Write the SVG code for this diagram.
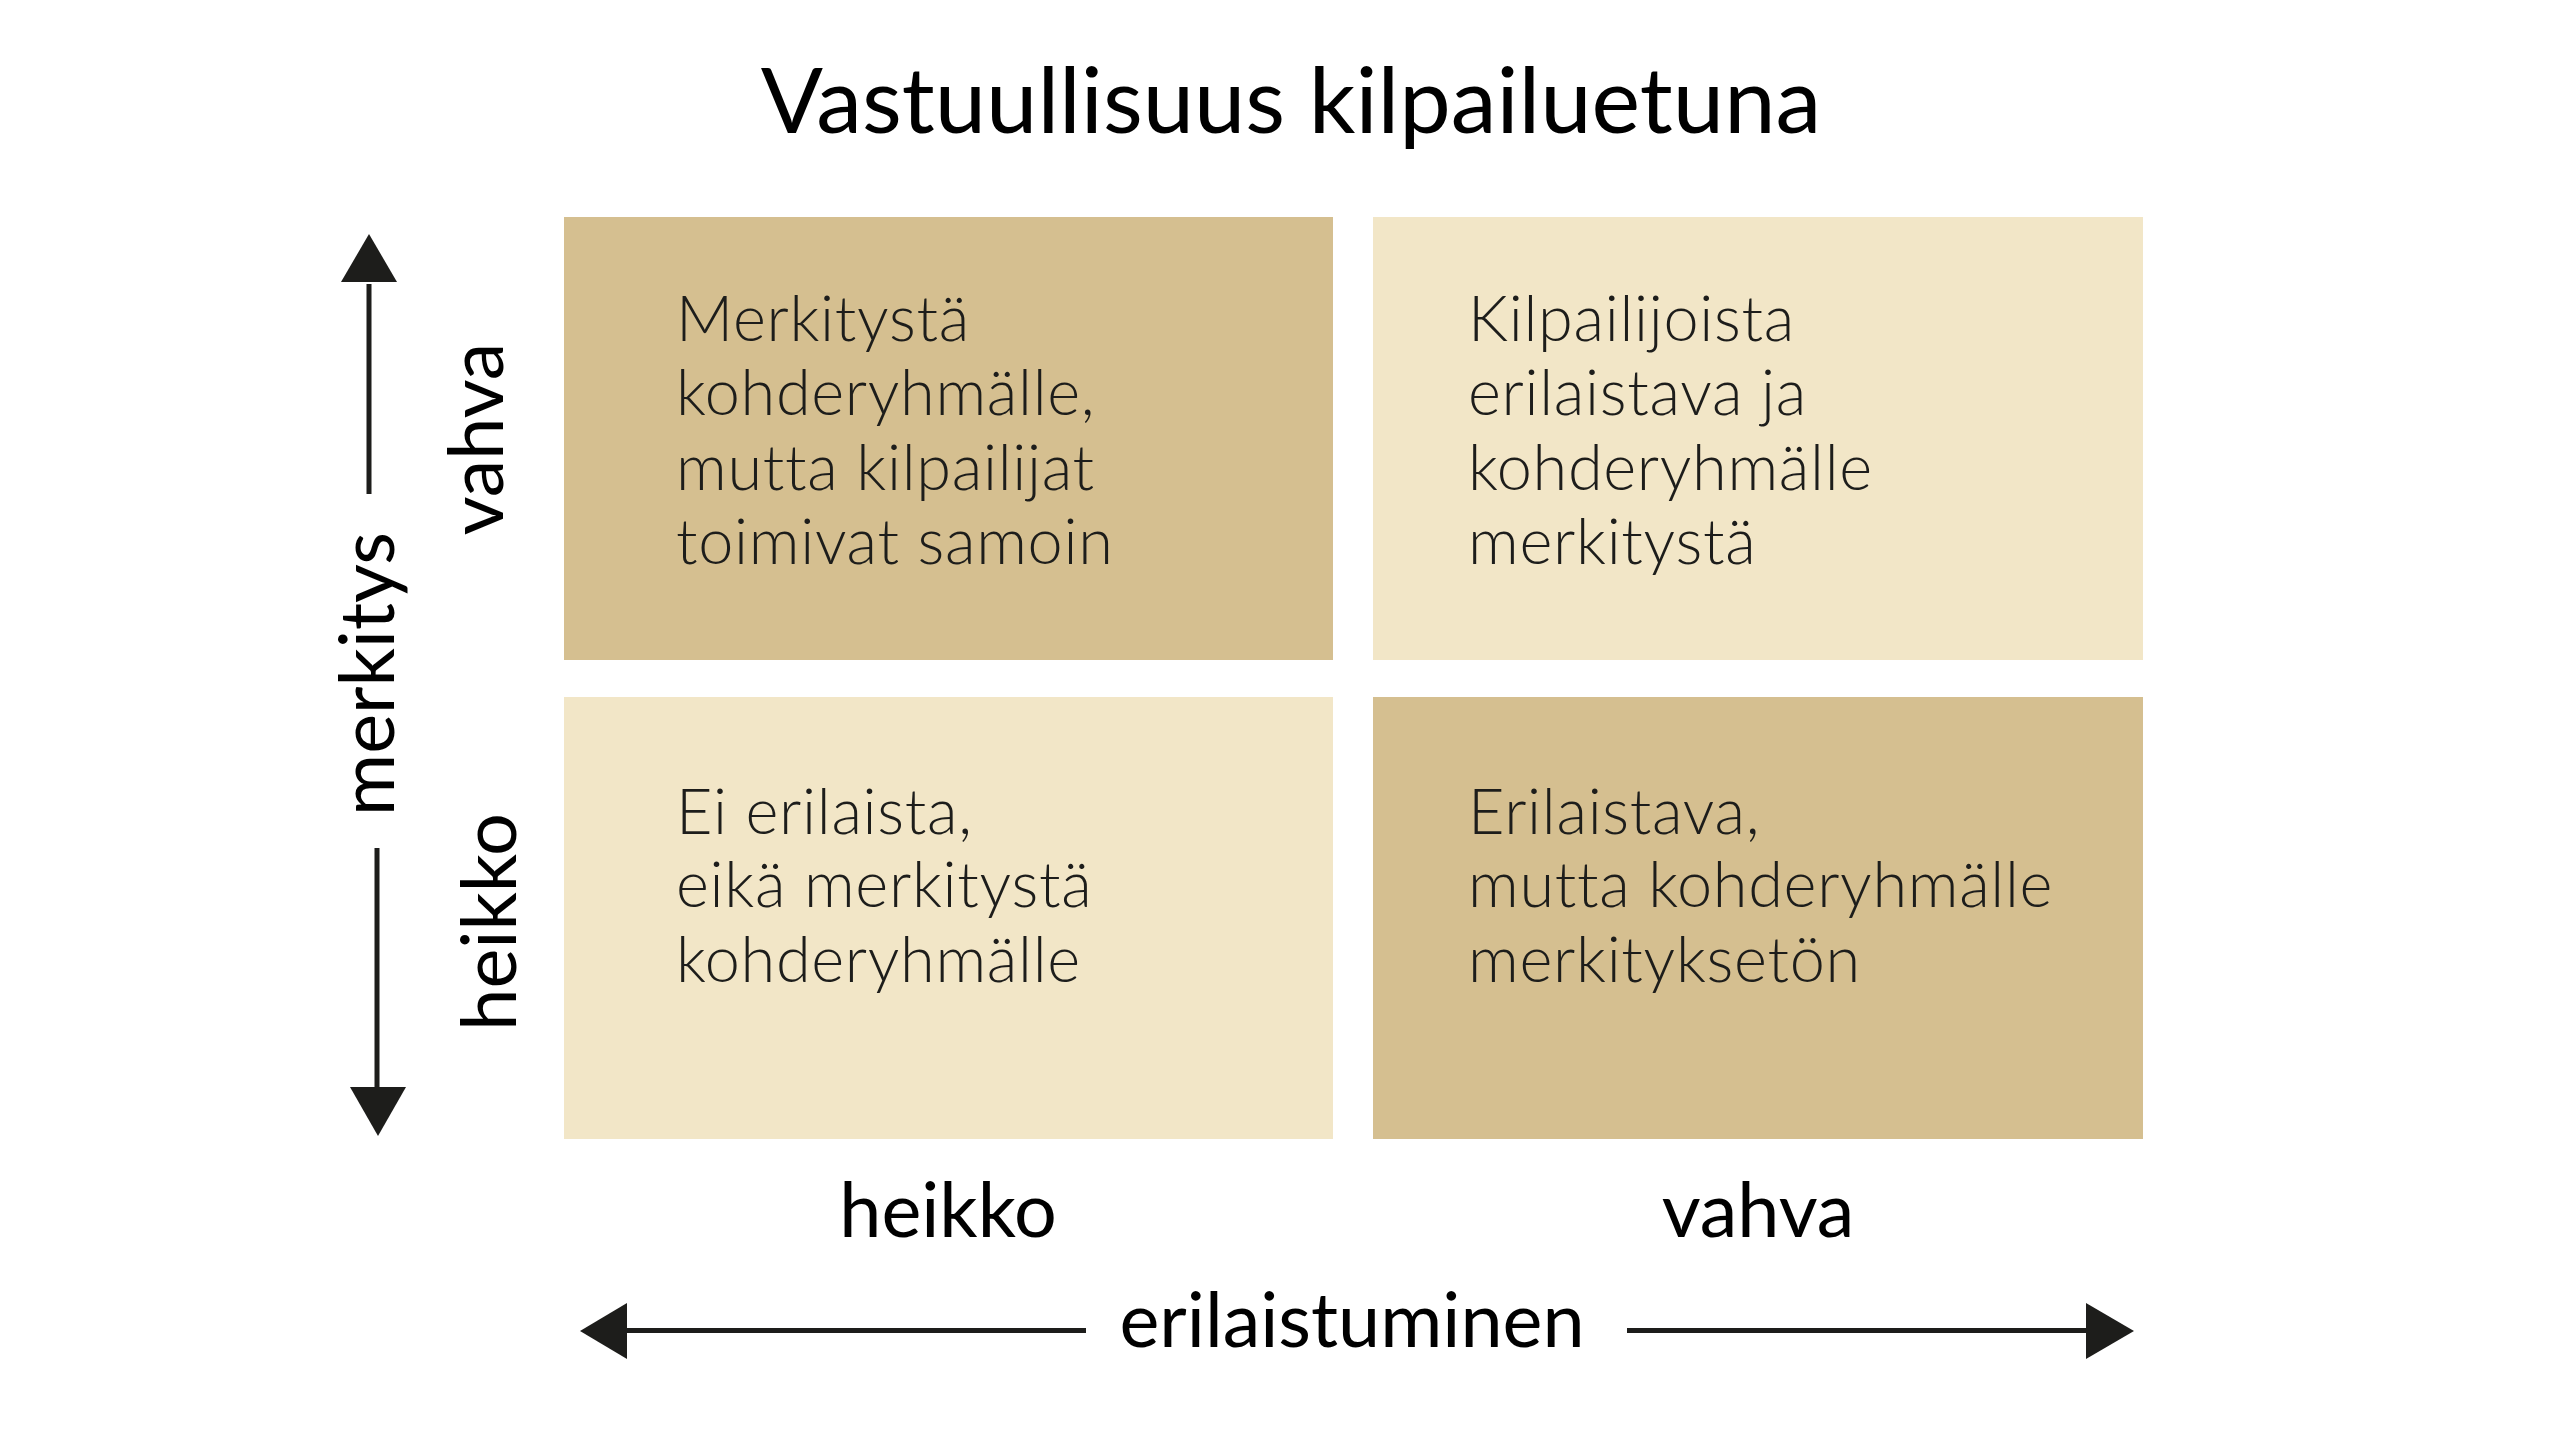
<svg xmlns="http://www.w3.org/2000/svg" width="2560" height="1440" viewBox="0 0 2560 1440">
<defs>
<style>
.bg{fill:#ffffff}
.dark{fill:#d5bf90}
.light{fill:#f2e6c7}
.body{font-family:Lato,"Noto Sans","Liberation Sans",sans-serif;font-size:63px;font-weight:300;letter-spacing:0.7px;fill:#1d1d1b}
.lbl{font-family:Lato,"Noto Sans","Liberation Sans",sans-serif;font-size:75.5px;fill:#000000;text-anchor:middle}
.title{font-family:Lato,"Noto Sans","Liberation Sans",sans-serif;font-size:92px;fill:#000000;text-anchor:middle}
.ax{stroke:#1d1d1b;stroke-width:5;fill:none}
.head{fill:#1d1d1b}
</style>
</defs>
<rect class="bg" x="0" y="0" width="2560" height="1440"/>
<text id="title" class="title" x="1291" y="133">Vastuullisuus kilpailuetuna</text>
<g id="q-tl">
<rect class="dark" x="564" y="217" width="769" height="443"/>
<text class="body"><tspan x="676" y="341">Merkitystä</tspan><tspan x="676" y="415">kohderyhmälle,</tspan><tspan x="676" y="490">mutta kilpailijat</tspan><tspan x="676" y="564">toimivat samoin</tspan></text>
</g>
<g id="q-tr">
<rect class="light" x="1373" y="217" width="770" height="443"/>
<text class="body"><tspan x="1468" y="341">Kilpailijoista</tspan><tspan x="1468" y="415">erilaistava ja</tspan><tspan x="1468" y="490">kohderyhmälle</tspan><tspan x="1468" y="564">merkitystä</tspan></text>
</g>
<g id="q-bl">
<rect class="light" x="564" y="697" width="769" height="442"/>
<text class="body"><tspan x="676" y="834">Ei erilaista,</tspan><tspan x="676" y="907">eikä merkitystä</tspan><tspan x="676" y="982">kohderyhmälle</tspan></text>
</g>
<g id="q-br">
<rect class="dark" x="1373" y="697" width="770" height="442"/>
<text class="body"><tspan x="1468" y="834">Erilaistava,</tspan><tspan x="1468" y="907">mutta kohderyhmälle</tspan><tspan x="1468" y="982">merkityksetön</tspan></text>
</g>
<g id="labels">
<text class="lbl" transform="translate(503,439) rotate(-90)">vahva</text>
<text class="lbl" transform="translate(394,674) rotate(-90)">merkitys</text>
<text class="lbl" transform="translate(516,922) rotate(-90)">heikko</text>
<text class="lbl" x="948" y="1237">heikko</text>
<text class="lbl" x="1758" y="1237">vahva</text>
<text class="lbl" x="1352" y="1347">erilaistuminen</text>
</g>
<g id="connectors">
<line class="ax" x1="369" y1="284" x2="369" y2="494"/>
<polygon class="head" points="341,282 397,282 369,234"/>
<line class="ax" x1="377" y1="848" x2="377" y2="1089"/>
<polygon class="head" points="350,1087 406,1087 378,1136"/>
<line class="ax" x1="625" y1="1330.5" x2="1086" y2="1330.5"/>
<polygon class="head" points="627,1303 627,1359 580,1331"/>
<line class="ax" x1="1627" y1="1330.5" x2="2088" y2="1330.5"/>
<polygon class="head" points="2086,1303 2086,1359 2134,1331"/>
</g>
</svg>
